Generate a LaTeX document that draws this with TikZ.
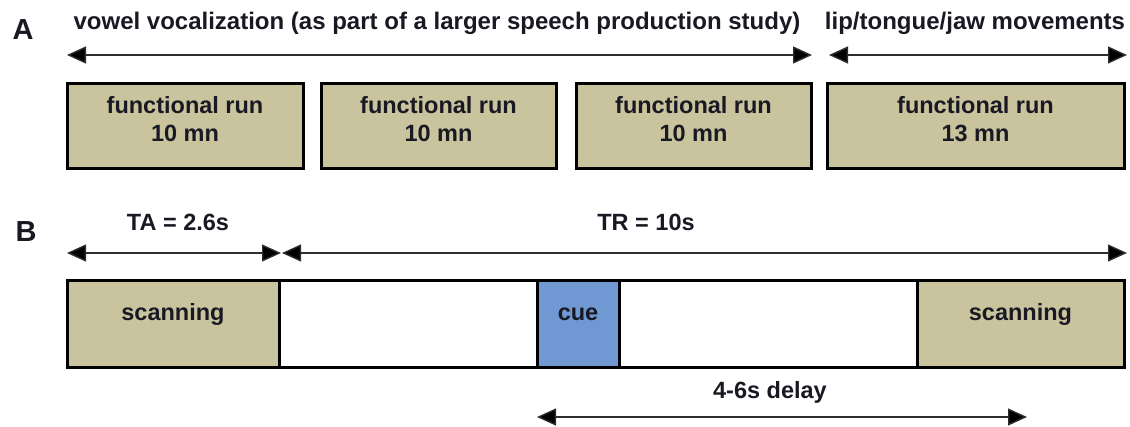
\documentclass[tikz,border=0pt]{standalone}
\usepackage{fontspec}
\setmainfont{Liberation Sans}
\usetikzlibrary{arrows.meta}
\definecolor{khaki}{RGB}{201,196,158}
\definecolor{cueblue}{RGB}{112,152,210}
\definecolor{txt}{RGB}{25,25,35}
\definecolor{arr}{RGB}{45,45,45}
\begin{document}
\begin{tikzpicture}[x=1pt,y=-1pt,
  font=\bfseries\fontsize{23.5}{28}\selectfont, text=txt,
  runbox/.style={draw=black,line width=3pt,fill=khaki,inner sep=0pt,minimum height=85pt},
  rowbox/.style={draw=black,line width=3pt,inner sep=0pt,minimum height=87pt},
  lbl/.style={align=center,inner sep=0pt},
  dimarrow/.style={draw=arr,line width=1.4pt,{Triangle[length=19pt,width=17pt,fill=black]}-{Triangle[length=19pt,width=17pt,fill=black]}},
  panel/.style={font=\bfseries\fontsize{29}{32}\selectfont,inner sep=0pt},
  head/.style={font=\bfseries\fontsize{24}{28}\selectfont,inner sep=0pt},
  dimlabel/.style={font=\bfseries\fontsize{23.5}{28}\selectfont,inner sep=0pt}]
\useasboundingbox[fill=white] (0,0) rectangle (1130,426);

% Panel A
\node[panel] (A) at (23,30) {A};
\node[head] (h1) at (437,23) {vowel vocalization (as part of a larger speech production study)};
\node[head] (h2) at (975,23) {lip/tongue/jaw movements};
\coordinate (a1l) at (67,55);
\coordinate (a1r) at (812,55);
\coordinate (a2l) at (829,55);
\coordinate (a2r) at (1127,55);
\draw[dimarrow] (a1l) -- (a1r);
\draw[dimarrow] (a2l) -- (a2r);

\node[runbox,minimum width=236pt,label={[lbl,yshift=6pt]center:functional run\\10 mn}] (r1) at (185,125.5) {};
\node[runbox,minimum width=235pt,label={[lbl,yshift=6pt]center:functional run\\10 mn}] (r2) at (438.5,125.5) {};
\node[runbox,minimum width=235pt,label={[lbl,yshift=6pt]center:functional run\\10 mn}] (r3) at (693.5,125.5) {};
\node[runbox,minimum width=297pt,label={[lbl,yshift=6pt]center:functional run\\13 mn}] (r4) at (975.5,125.5) {};

% Panel B
\node[panel] (B) at (26,232) {B};
\node[dimlabel] (ta) at (178,222) {TA = 2.6s};
\node[dimlabel] (tr) at (646,222) {TR = 10s};
\coordinate (tal) at (67,253);
\coordinate (tar) at (281,253);
\coordinate (trl) at (282,253);
\coordinate (trr) at (1127,253);
\draw[dimarrow] (tal) -- (tar);
\draw[dimarrow] (trl) -- (trr);

\node[rowbox,fill=white,minimum width=258pt] (w1) at (408,323.5) {};
\node[rowbox,fill=white,minimum width=298pt] (w2) at (768,323.5) {};
\node[rowbox,fill=khaki,minimum width=212pt,label={[lbl,yshift=9pt]center:scanning}] (s1) at (173,323.5) {};
\node[rowbox,fill=cueblue,minimum width=82pt,label={[lbl,yshift=9pt]center:cue}] (cue) at (578,323.5) {};
\node[rowbox,fill=khaki,minimum width=207pt,label={[lbl,yshift=9pt]center:scanning}] (s2) at (1020.5,323.5) {};

\node[dimlabel] (dl) at (770,392) {4-6s delay};
\coordinate (dll) at (537,417);
\coordinate (dlr) at (1027,417);
\draw[dimarrow] (dll) -- (dlr);
\end{tikzpicture}
\end{document}
